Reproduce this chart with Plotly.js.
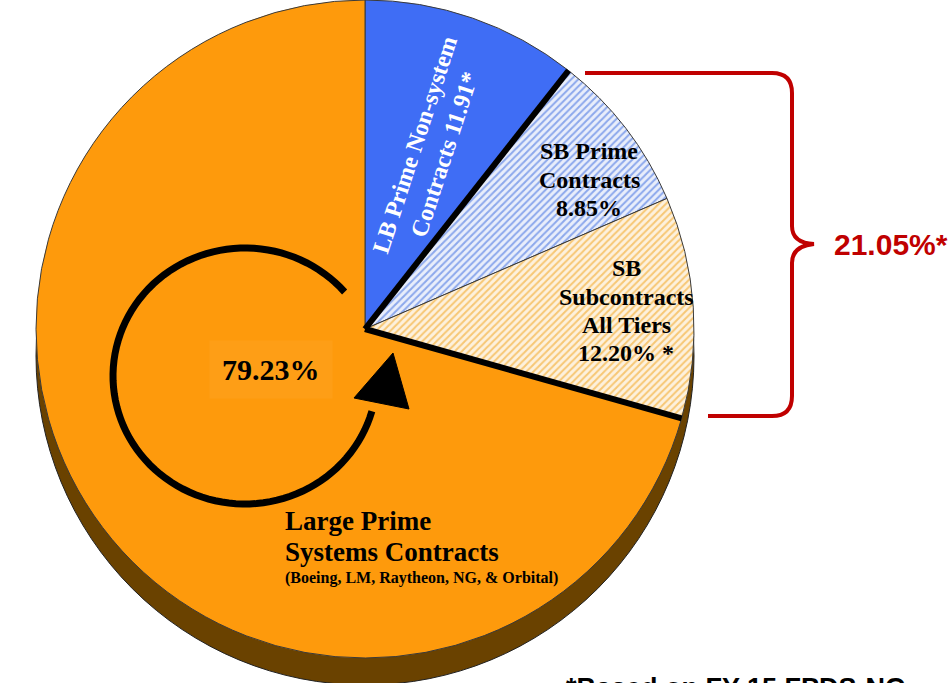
<!DOCTYPE html>
<html>
<head>
<meta charset="utf-8">
<script src="https://cdn.plot.ly/plotly-3.0.1.min.js"></script>
<style>html,body{margin:0;padding:0;background:#fff;}#chart{width:952px;height:683px;}</style>
</head>
<body>
<div id="chart"></div>
<script>
// ---- data ----
const categories = ["LB Prime Non-system Contracts", "SB Prime Contracts", "SB Subcontracts All Tiers", "Large Prime Systems Contracts"];
const values = [11.91, 8.85, 12.20, 79.23];
const groupTotal = 21.05; // SB prime + SB subcontracts bracket label

// ---- geometry helpers ----
const W = 952, H = 683;
const cx = 365, cy = 329, R = 329;
const px = x => x / W;
const py = y => 1 - y / H;

const colors = ["#3F6DF5", "#E9EEFB", "#FDF1DD", "#FE9A0C"];

const trace = {
  type: "pie",
  labels: categories,
  values: values,
  sort: false,
  direction: "clockwise",
  rotation: 0,
  textinfo: "none",
  hoverinfo: "label+value",
  domain: {x: [px(cx - R), px(cx + R)], y: [py(cy + R), py(cy - R)]},
  marker: {
    colors: colors,
    line: {color: "#3a3a3a", width: 1},
    pattern: {
      shape: ["", "/", "/", ""],
      fgcolor: ["#3F6DF5", "#8CA8EC", "#F7C774", "#FE9A0C"],
      bgcolor: colors,
      size: 5,
      solidity: 0.4,
      fillmode: "replace"
    }
  },
  showlegend: false
};

// boundary angles derived from the data
const total = values.reduce((a, b) => a + b, 0);
const cum = [];
let acc = 0;
values.forEach(v => { acc += v; cum.push(acc / total * 360); });
function edgePoint(deg) {
  const r = deg * Math.PI / 180;
  return [cx + R * Math.sin(r), cy - R * Math.cos(r)];
}

const shapes = [];
// pie depth (shadow)
shapes.push({
  type: "circle", xref: "paper", yref: "paper", layer: "below",
  x0: px(cx - R), x1: px(cx + R), y0: py(cy + R + 27), y1: py(cy - R + 27),
  fillcolor: "#6A4200", line: {color: "#222", width: 1}
});
// thick separators
[[cum[0], 6], [cum[2], 6]].forEach(([deg, w]) => {
  const p = edgePoint(deg);
  shapes.push({type: "line", xref: "paper", yref: "paper", layer: "above",
    x0: px(cx), y0: py(cy), x1: px(p[0]), y1: py(p[1]),
    line: {color: "#000", width: w}});
});
// circular arrow
(function () {
  const ecx = 245, ecy = 376, rx = 132, ry = 128;
  let d = "";
  for (let a = -41; a >= -346; a -= 3) {
    const r = a * Math.PI / 180;
    const x = ecx + rx * Math.cos(r), y = ecy + ry * Math.sin(r);
    d += (d ? " L " : "M ") + px(x).toFixed(5) + "," + py(y).toFixed(5);
  }
  shapes.push({type: "path", xref: "paper", yref: "paper", layer: "above",
    path: d, line: {color: "#000", width: 7}});
  const tri = [[393, 353], [354, 398], [409, 409]];
  shapes.push({type: "path", xref: "paper", yref: "paper", layer: "above",
    path: "M " + tri.map(p => px(p[0]).toFixed(5) + "," + py(p[1]).toFixed(5)).join(" L ") + " Z",
    fillcolor: "#000", line: {color: "#000", width: 1}});
})();
// red bracket
(function () {
  const P = (x, y) => px(x).toFixed(5) + "," + py(y).toFixed(5);
  const d = "M " + P(585, 73) + " L " + P(772, 73) + " Q " + P(792, 73) + " " + P(792, 93) +
    " L " + P(792, 226) + " Q " + P(792, 243) + " " + P(814, 244) +
    " Q " + P(792, 246) + " " + P(792, 263) + " L " + P(792, 396) +
    " Q " + P(792, 416) + " " + P(772, 416) + " L " + P(708, 416);
  shapes.push({type: "path", xref: "paper", yref: "paper", layer: "above",
    path: d, line: {color: "#C00000", width: 4}});
})();

const serif = "Liberation Serif, Times New Roman, serif";
const sans = "Liberation Sans, Arial, sans-serif";
function ann(text, x, y, size, opts) {
  return Object.assign({
    text: text, x: px(x), y: py(y), xref: "paper", yref: "paper",
    showarrow: false, xanchor: "center", yanchor: "middle",
    font: {family: serif, size: size, color: "#000"}
  }, opts || {});
}
const pct = v => v.toFixed(2) + "%";
const annotations = [
  ann("<b>LB Prime Non-system<br>Contracts " + values[0].toFixed(2) + "*</b>", 430, 150, 24,
    {textangle: -72, font: {family: serif, size: 24, color: "#fff"}}),
  ann("<b>SB Prime</b>", 589, 151, 24),
  ann("<b>Contracts</b>", 589, 180, 24),
  ann("<b>" + pct(values[1]) + "</b>", 589, 208, 24),
  ann("<b>SB</b>", 626, 268, 24),
  ann("<b>Subcontracts</b>", 626, 297, 24),
  ann("<b>All Tiers</b>", 626, 325, 24),
  ann("<b>" + pct(values[2]) + " *</b>", 626, 353, 24),
  ann("<b>" + pct(values[3]) + "</b>", 271, 369, 30, {bgcolor: "#FE9E16", borderpad: 12}),
  ann("<b>Large Prime</b>", 283, 521, 27, {xanchor: "left"}),
  ann("<b>Systems Contracts</b>", 283, 552, 27, {xanchor: "left"}),
  ann("<b>(Boeing, LM, Raytheon, NG, &amp; Orbital)</b>", 283, 578, 16, {xanchor: "left"}),
  ann("<b>" + groupTotal.toFixed(2) + "%*</b>", 832, 244, 30,
    {xanchor: "left", font: {family: sans, size: 30, color: "#C00000"}}),
  ann("<b>*Based on FY 15 FPDS-NG</b>", 564, 688, 27,
    {xanchor: "left", font: {family: sans, size: 27, color: "#000"}})
];

Plotly.newPlot("chart", [trace], {
  width: W, height: H,
  margin: {l: 0, r: 0, t: 0, b: 0},
  paper_bgcolor: "#fff",
  showlegend: false,
  shapes: shapes,
  annotations: annotations
}, {displayModeBar: false, staticPlot: true});
</script>
</body>
</html>
